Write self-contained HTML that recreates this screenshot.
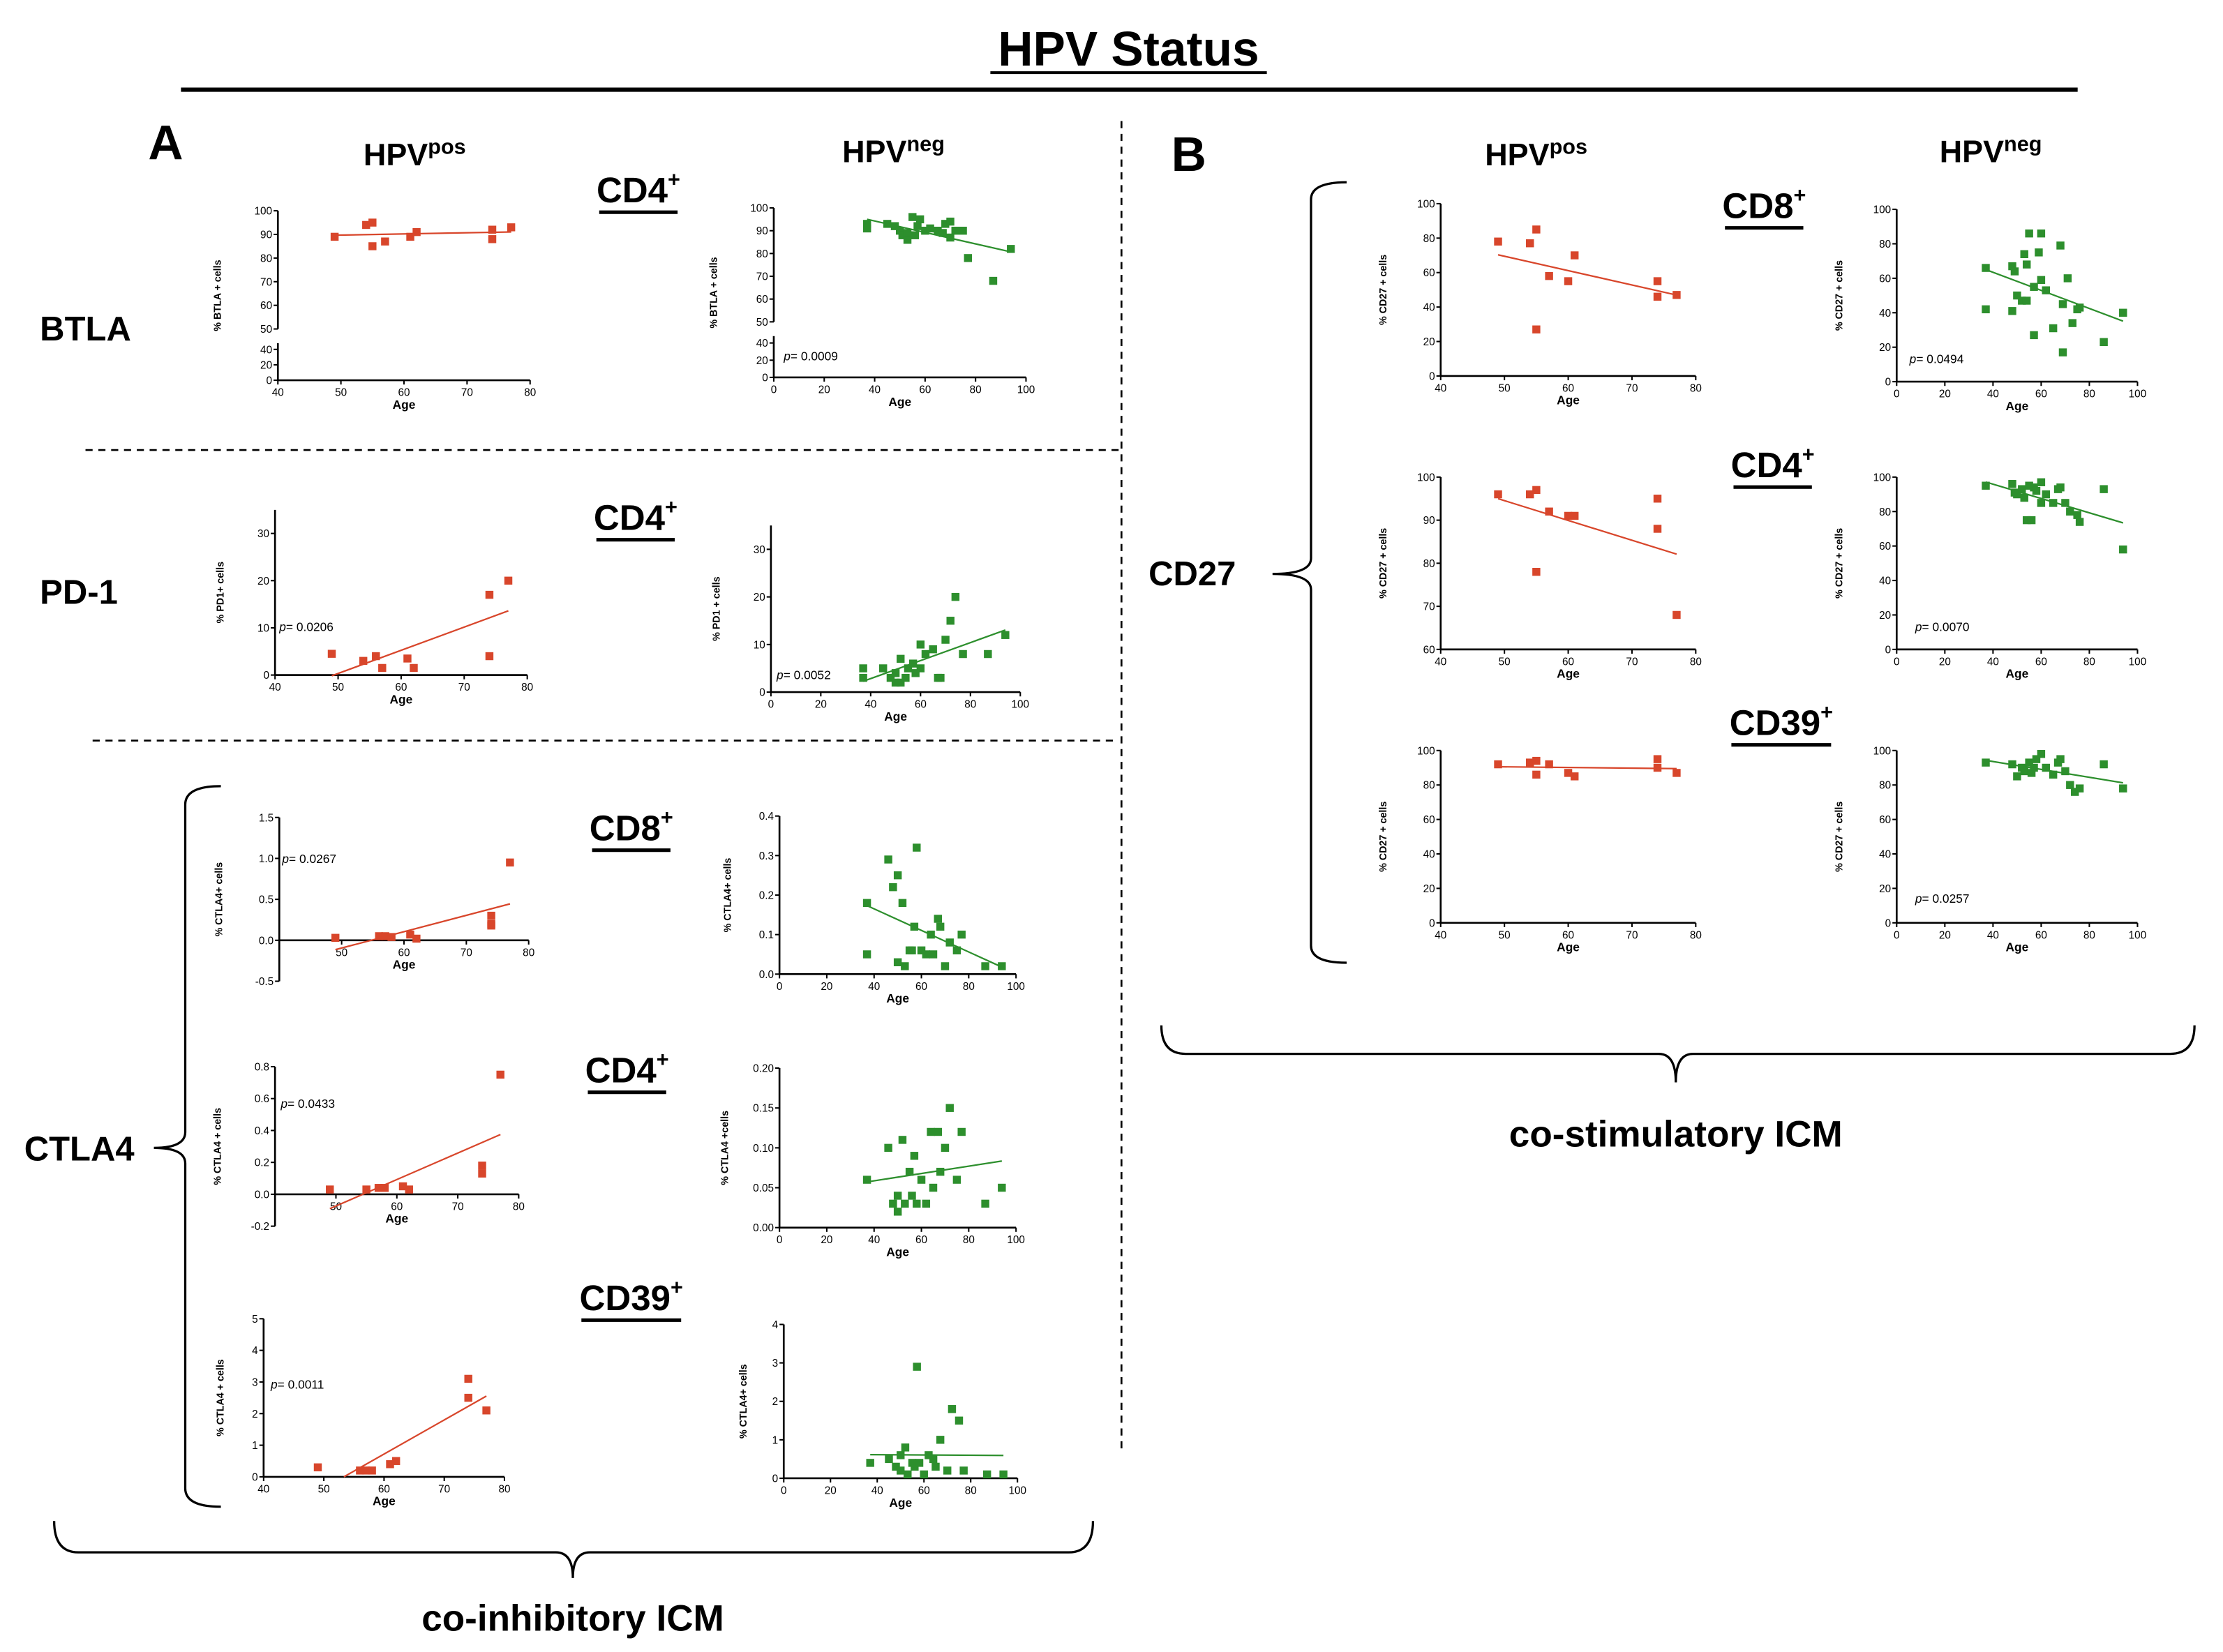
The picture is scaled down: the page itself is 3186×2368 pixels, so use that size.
<!DOCTYPE html>
<html><head><meta charset="utf-8"><style>
html,body{margin:0;padding:0;background:#fff;}
svg{display:block;font-family:"Liberation Sans",Arial,sans-serif;}
.h{font-weight:bold;font-family:"Liberation Sans",sans-serif;}
</style></head><body>
<svg id="fig" xmlns="http://www.w3.org/2000/svg" width="3186" height="2368" viewBox="0 0 1560 1160" preserveAspectRatio="none">
<rect width="1560" height="1160" fill="#fff"/>
<g>
<text x="792" y="46" text-anchor="middle" class="h" font-size="34">HPV Status</text>
<line x1="695" y1="51" x2="889" y2="51" stroke="#000" stroke-width="2"/>
<line x1="127" y1="63" x2="1458" y2="63" stroke="#000" stroke-width="3"/>
</g>
<text x="104" y="112" class="h" font-size="34">A</text>
<text x="822" y="120" class="h" font-size="34">B</text>
<g class="h" font-size="22" text-anchor="middle">
<text x="291" y="116">HPV<tspan font-size="15" dy="-8">pos</tspan></text>
<text x="627" y="114">HPV<tspan font-size="15" dy="-8">neg</tspan></text>
<text x="1078" y="116">HPV<tspan font-size="15" dy="-8">pos</tspan></text>
<text x="1397" y="114">HPV<tspan font-size="15" dy="-8">neg</tspan></text>
</g>
<g class="h" font-size="24">
<text x="28" y="239">BTLA</text>
<text x="28" y="424">PD-1</text>
<text x="17" y="815">CTLA4</text>
<text x="806" y="411">CD27</text>
</g>
<g stroke="#000" stroke-width="1.3" stroke-dasharray="5,4" fill="none">
<line x1="60" y1="316" x2="785" y2="316"/>
<line x1="65" y1="520" x2="785" y2="520"/>
<line x1="787" y1="85" x2="787" y2="1020"/>
</g>
<g stroke="#000" stroke-width="1.6" fill="none">
<path d="M155,552 Q130,552 130,565 L130,795 Q130,806 108,806 Q130,806 130,817 L130,1045 Q130,1058 155,1058"/>
<path d="M945,128 Q920,128 920,140 L920,392 Q920,403 893,403 Q920,403 920,414 L920,664 Q920,676 945,676"/>
<path d="M38,1068 Q38,1090 55,1090 L390,1090 Q402,1090 402,1108 Q402,1090 414,1090 L750,1090 Q767,1090 767,1068"/>
<path d="M815,720 Q815,740 832,740 L1164,740 Q1176,740 1176,760 Q1176,740 1188,740 L1523,740 Q1540,740 1540,720"/>
</g>
<g class="h" font-size="26" text-anchor="middle">
<text x="402" y="1145">co-inhibitory ICM</text>
<text x="1176" y="805">co-stimulatory ICM</text>
</g>
<g id="plots"></g>
</svg>
<script>
// ---- data (age, % cells) ----
const btlaPosAge=[49,54,55,55,57,61,62,74,74,77];
const btlaPosVal=[89,94,95,85,87,89,91,88,92,93];
const btlaNegAge=[37,37,45,48,50,51,53,53,55,56,57,58,60,62,65,67,68,70,70,72,75,77,87,94];
const btlaNegVal=[91,93,93,92,90,88,86,89,96,88,92,95,90,91,90,89,93,87,94,90,90,78,68,82];
const pd1PosAge=[49,54,56,57,61,62,74,74,77];
const pd1PosVal=[4.5,3,4,1.5,3.5,1.5,4,17,20];
const pd1NegAge=[37,37,45,48,50,50,52,52,54,55,57,58,60,60,62,65,67,68,70,72,74,77,87,94];
const pd1NegVal=[5,3,5,3,2,4,7,2,3,5,6,4,10,5,8,9,3,3,11,15,20,8,8,12];
const c8PosAge=[49,56,57,58,61,62,74,74,74,77];
const c8PosVal=[0.03,0.05,0.05,0.04,0.07,0.02,0.3,0.2,0.18,0.95];
const c8NegAge=[37,37,46,48,50,50,52,53,55,56,57,58,60,62,64,65,67,68,70,72,75,77,87,94];
const c8NegVal=[0.18,0.05,0.29,0.22,0.25,0.03,0.18,0.02,0.06,0.06,0.12,0.32,0.06,0.05,0.1,0.05,0.14,0.12,0.02,0.08,0.06,0.1,0.02,0.02];
const c4PosAge=[49,55,57,58,61,62,74,74,77];
const c4PosVal=[0.03,0.03,0.04,0.04,0.05,0.03,0.18,0.13,0.75];
const c4NegAge=[37,46,48,50,50,52,53,55,56,57,58,60,62,64,65,67,68,70,72,75,77,87,94];
const c4NegVal=[0.06,0.1,0.03,0.02,0.04,0.11,0.03,0.07,0.04,0.09,0.03,0.06,0.03,0.12,0.05,0.12,0.07,0.1,0.15,0.06,0.12,0.03,0.05];
const c39PosAge=[49,56,57,58,61,62,74,74,77];
const c39PosVal=[0.3,0.2,0.2,0.2,0.4,0.5,3.1,2.5,2.1];
const c39NegAge=[37,45,48,50,50,52,53,55,56,57,58,60,62,64,65,67,70,72,75,77,87,94];
const c39NegVal=[0.4,0.5,0.3,0.2,0.6,0.8,0.1,0.4,0.3,2.9,0.4,0.1,0.6,0.5,0.3,1.0,0.2,1.8,1.5,0.2,0.1,0.1];
const d8PosAge=[49,54,55,55,57,60,61,74,74,77];
const d8PosVal=[78,77,85,27,58,55,70,55,46,47];
const d8NegAge=[37,37,48,48,49,50,52,53,54,54,55,57,57,59,60,60,62,65,68,69,69,71,73,75,76,86,94];
const d8NegVal=[66,42,67,41,64,50,47,74,68,47,86,55,27,75,86,59,53,31,79,45,17,60,34,42,43,23,40];
const d4PosAge=[49,54,55,55,57,60,61,74,74,77];
const d4PosVal=[96,96,97,78,92,91,91,95,88,68];
const d4NegAge=[37,48,49,50,52,53,54,55,56,57,58,60,60,62,65,67,68,70,72,75,76,86,94];
const d4NegVal=[95,96,91,90,93,88,75,95,75,94,92,97,85,90,85,93,94,85,80,78,74,93,58];
const d39PosAge=[49,54,55,55,57,60,61,74,74,77];
const d39PosVal=[92,93,94,86,92,87,85,95,90,87];
const d39NegAge=[37,48,50,52,53,55,56,57,58,60,62,65,67,68,70,72,74,76,86,94];
const d39NegVal=[93,92,85,90,88,93,87,90,95,98,90,86,93,95,88,80,76,78,92,78];
// ---- tick labels ----
const ticksAge4080=[40,50,60,70,80];
const ticksAge0100=[0,20,40,60,80,100];
const ticksBtla=[0,20,40,50,60,70,80,90,100];
const ticksPd1=[0,10,20,30];
const ticksC8Pos=[-0.5,0.0,0.5,1.0,1.5];
const ticksC8Neg=[0.0,0.1,0.2,0.3,0.4];
const ticksC4Pos=[-0.2,0.0,0.2,0.4,0.6,0.8];
const ticksC4Neg=[0.00,0.05,0.10,0.15,0.20];
const ticksC39Pos=[0,1,2,3,4,5];
const ticksC39Neg=[0,1,2,3,4];
const ticks0100=[0,20,40,60,80,100];
const ticks60100=[60,70,80,90,100];

const NS="http://www.w3.org/2000/svg";
const root=document.getElementById('plots');
const RED="#d8462b", GREEN="#2d8f2d";
function mk(tag,attrs,parent){const e=document.createElementNS(NS,tag);for(const k in attrs)e.setAttribute(k,attrs[k]);parent.appendChild(e);return e;}

function plot(name,cfg,xs,ys,color,ytitle,yt,dec,pval){
  const g=mk('g',{},root);
  
  
  const xsc=v=>cfg.px[0]+(v-cfg.xd[0])/(cfg.xd[1]-cfg.xd[0])*(cfg.px[1]-cfg.px[0]);
  const ysc=cfg.ysc?cfg.ysc:(v=>cfg.py[0]+(v-cfg.yd[0])/(cfg.yd[1]-cfg.yd[0])*(cfg.py[1]-cfg.py[0]));
  const ax=xsc(cfg.xd[0]);
  const y0=ysc(Math.max(cfg.yd[0],0));
  const axes=mk('g',{stroke:'#000','stroke-width':1.3,fill:'none'},g);
  
  
  if(cfg.brk){
    mk('line',{x1:ax,y1:ysc(cfg.yd[1]),x2:ax,y2:ysc(50)},axes);
    mk('line',{x1:ax,y1:ysc(48),x2:ax,y2:ysc(0)},axes);
  } else mk('line',{x1:ax,y1:ysc(cfg.yd[1]),x2:ax,y2:ysc(cfg.yd[0])},axes);
  mk('line',{x1:ax,y1:y0,x2:xsc(cfg.xd[1]),y2:y0},axes);
  const tl=mk('g',{'font-size':7.5,fill:'#000'},g);
  
  
  yt.forEach(v=>{const y=ysc(v);mk('line',{x1:ax-3,y1:y,x2:ax,y2:y,stroke:'#000','stroke-width':1},axes);
    const t=mk('text',{x:ax-4,y:y+2.7,'text-anchor':'end'},tl);t.textContent=v.toFixed(dec);});
  cfg.xt.forEach(v=>{const x=xsc(v);mk('line',{x1:x,y1:y0,x2:x,y2:y0+3,stroke:'#000','stroke-width':1},axes);
    const t=mk('text',{x:x,y:y0+11,'text-anchor':'middle'},tl);t.textContent=v;});
  const xl=mk('text',{x:(ax+xsc(cfg.xd[1]))/2,y:y0+20,'text-anchor':'middle','font-size':8.5,'font-weight':'bold'},g);
  xl.textContent='Age';
  
  
  const ym=(ysc(cfg.yd[1])+ysc(cfg.yd[0]))/2;
  const yl=mk('text',{x:0,y:0,'text-anchor':'middle','font-size':7,'font-weight':'bold',transform:`translate(${ax-cfg.yo},${ym}) rotate(-90)`},g);
  yl.textContent=ytitle;
  
  
  // regression
  const n=xs.length;let mx=0,my=0;for(let i=0;i<n;i++){mx+=xs[i];my+=ys[i];}mx/=n;my/=n;
  let sxy=0,sxx=0;for(let i=0;i<n;i++){sxy+=(xs[i]-mx)*(ys[i]-my);sxx+=(xs[i]-mx)**2;}
  const b=sxy/sxx,a=my-b*mx;
  let xa=Math.min(...xs),xb=Math.max(...xs);
  if(cfg.clip){const xz=-a/b; if(b>0&&xz>xa)xa=xz;}
  const ln=mk('line',{x1:xsc(xa),y1:ysc(a+b*xa),x2:xsc(xb),y2:ysc(a+b*xb),stroke:color,'stroke-width':1.1},g);
  
  
  for(let i=0;i<n;i++){
    const r=mk('rect',{x:xsc(xs[i])-2.8,y:ysc(ys[i])-2.8,width:5.6,height:5.6,fill:color},g);
    
    
  }
  if(pval){
    const t=mk('text',{x:pval[0],y:pval[1],'font-size':8.5},g);
    t.innerHTML='<tspan font-style="italic">p</tspan>= '+pval[2];
    
    
  }
}
function brokenScale(yz,y50,y100){return v=>v>=50?y50-(v-50)/50*(y50-y100):yz-v/48*(yz-(y50+10));}

plot('btla-hpvpos-plot',{px:[195,372],xd:[40,80],yd:[0,100],ysc:brokenScale(267,231,148),brk:1,xt:ticksAge4080,yo:40},btlaPosAge,btlaPosVal,RED,'% BTLA + cells',ticksBtla,0,null);
plot('btla-hpvneg-plot',{px:[543,720],xd:[0,100],yd:[0,100],ysc:brokenScale(265,226,146),brk:1,xt:ticksAge0100,yo:40},btlaNegAge,btlaNegVal,GREEN,'% BTLA + cells',ticksBtla,0,[550,253,'0.0009']);
plot('pd1-hpvpos-plot',{px:[193,370],xd:[40,80],yd:[0,35],py:[474,358],xt:ticksAge4080,yo:36},pd1PosAge,pd1PosVal,RED,'% PD1+ cells',ticksPd1,0,[196,443,'0.0206']);
plot('pd1-hpvneg-plot',{px:[541,716],xd:[0,100],yd:[0,35],py:[486,369],xt:ticksAge0100,yo:36},pd1NegAge,pd1NegVal,GREEN,'% PD1 + cells',ticksPd1,0,[545,477,'0.0052']);
plot('ctla4-cd8-hpvpos-plot',{px:[196,371],xd:[40,80],yd:[-0.5,1.5],py:[689,574],xt:[50,60,70,80],yo:40},c8PosAge,c8PosVal,RED,'% CTLA4+ cells',ticksC8Pos,1,[198,606,'0.0267']);
plot('ctla4-cd8-hpvneg-plot',{px:[547,713],xd:[0,100],yd:[0,0.4],py:[684,573],xt:ticksAge0100,yo:34},c8NegAge,c8NegVal,GREEN,'% CTLA4+ cells',ticksC8Neg,1,null);
plot('ctla4-cd4-hpvpos-plot',{px:[193,364],xd:[40,80],yd:[-0.2,0.8],py:[861,749],xt:[50,60,70,80],yo:38},c4PosAge,c4PosVal,RED,'% CTLA4 + cells',ticksC4Pos,1,[197,778,'0.0433']);
plot('ctla4-cd4-hpvneg-plot',{px:[547,713],xd:[0,100],yd:[0,0.2],py:[862,750],xt:ticksAge0100,yo:36},c4NegAge,c4NegVal,GREEN,'% CTLA4 +cells',ticksC4Neg,2,null);
plot('ctla4-cd39-hpvpos-plot',{px:[185,354],xd:[40,80],yd:[0,5],py:[1037,926],xt:ticksAge4080,yo:28,clip:1},c39PosAge,c39PosVal,RED,'% CTLA4 + cells',ticksC39Pos,0,[190,975,'0.0011']);
plot('ctla4-cd39-hpvneg-plot',{px:[550,714],xd:[0,100],yd:[0,4],py:[1038,930],xt:ticksAge0100,yo:26},c39NegAge,c39NegVal,GREEN,'% CTLA4+ cells',ticksC39Neg,0,null);
plot('cd27-cd8-hpvpos-plot',{px:[1011,1190],xd:[40,80],yd:[0,100],py:[264,143],xt:ticksAge4080,yo:38},d8PosAge,d8PosVal,RED,'% CD27 + cells',ticks0100,0,null);
plot('cd27-cd8-hpvneg-plot',{px:[1331,1500],xd:[0,100],yd:[0,100],py:[268,147],xt:ticksAge0100,yo:38},d8NegAge,d8NegVal,GREEN,'% CD27 + cells',ticks0100,0,[1340,255,'0.0494']);
plot('cd27-cd4-hpvpos-plot',{px:[1011,1190],xd:[40,80],yd:[60,100],py:[456,335],xt:ticksAge4080,yo:38},d4PosAge,d4PosVal,RED,'% CD27 + cells',ticks60100,0,null);
plot('cd27-cd4-hpvneg-plot',{px:[1331,1500],xd:[0,100],yd:[0,100],py:[456,335],xt:ticksAge0100,yo:38},d4NegAge,d4NegVal,GREEN,'% CD27 + cells',ticks0100,0,[1344,443,'0.0070']);
plot('cd27-cd39-hpvpos-plot',{px:[1011,1190],xd:[40,80],yd:[0,100],py:[648,527],xt:ticksAge4080,yo:38},d39PosAge,d39PosVal,RED,'% CD27 + cells',ticks0100,0,null);
plot('cd27-cd39-hpvneg-plot',{px:[1331,1500],xd:[0,100],yd:[0,100],py:[648,527],xt:ticksAge0100,yo:38},d39NegAge,d39NegVal,GREEN,'% CD27 + cells',ticks0100,0,[1344,634,'0.0257']);

// cell-type labels
const cellLabels=[['CD4',448,142],['CD4',446,372],['CD8',443,590],['CD4',440,760],['CD39',443,920],['CD8',1238,153],['CD4',1244,335],['CD39',1250,516]];
cellLabels.forEach(c=>{
  const g=mk('g',{},root);
  
  
  const t=mk('text',{x:c[1],y:c[2],'text-anchor':'middle','font-size':25,'font-weight':'bold'},g);
  t.innerHTML=c[0]+'<tspan font-size="15" dy="-11">+</tspan>';
  const w=c[0].length*15+6;
  mk('line',{x1:c[1]-w/2-2,y1:c[2]+7,x2:c[1]+w/2+2,y2:c[2]+7,stroke:'#000','stroke-width':2.5},g);
});
</script>
</body></html>
